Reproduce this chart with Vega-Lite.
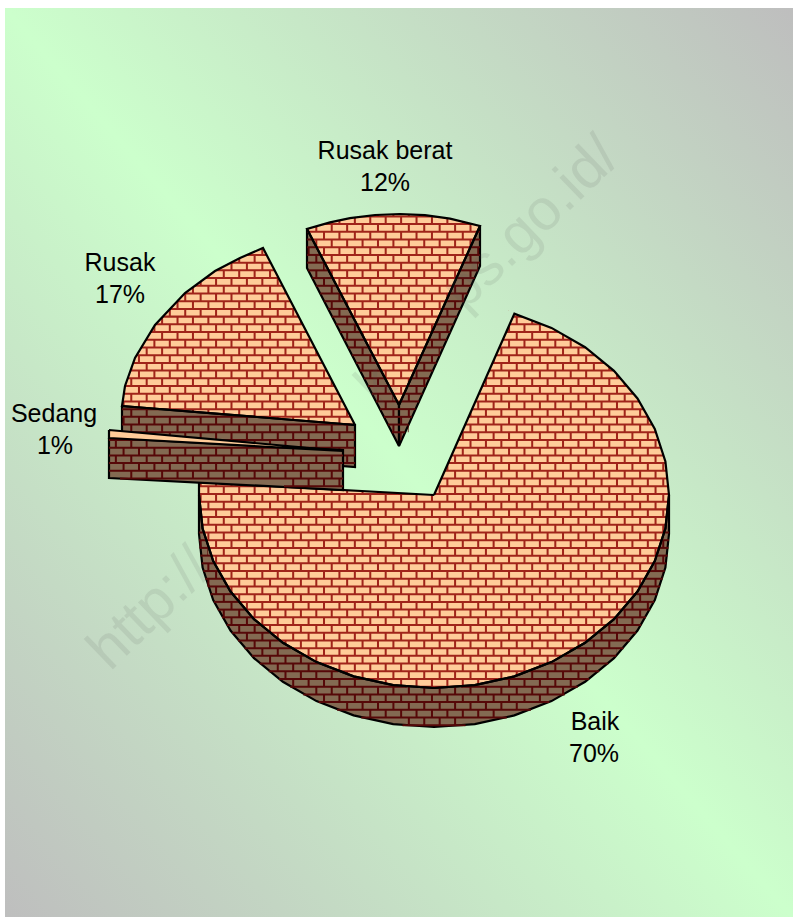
{"$schema":"https://vega.github.io/schema/vega-lite/v6.json","width":793,"height":917,"padding":0,"autosize":{"type":"fit","contains":"padding"},"background":"white","config":{"view":{"stroke":null}},
"datasets":{
"mask":[{"i":1,"x":5,"y":8},{"i":2,"x":793,"y":8},{"i":3,"x":793,"y":917},{"i":4,"x":5,"y":917},{"i":5,"x":5,"y":8},{"i":6,"x":514.4,"y":313.6},{"i":7,"x":434,"y":495},{"i":8,"x":343,"y":490},{"i":9,"x":343,"y":466},{"i":10,"x":355,"y":467},{"i":11,"x":355,"y":425},{"i":12,"x":263,"y":248},{"i":13,"x":240,"y":258},{"i":14,"x":215,"y":271},{"i":15,"x":185,"y":293},{"i":16,"x":155,"y":325},{"i":17,"x":135,"y":358},{"i":18,"x":125,"y":386},{"i":19,"x":122,"y":406},{"i":20,"x":122,"y":431},{"i":21,"x":109,"y":430},{"i":22,"x":109,"y":478},{"i":23,"x":199,"y":482},{"i":24,"x":199,"y":534},{"i":25,"x":202.6,"y":567.5},{"i":26,"x":213.2,"y":600},{"i":27,"x":230.5,"y":630.5},{"i":28,"x":254,"y":658.1},{"i":29,"x":282.9,"y":681.8},{"i":30,"x":316.5,"y":701.1},{"i":31,"x":353.6,"y":715.4},{"i":32,"x":393.2,"y":724.1},{"i":33,"x":434,"y":727},{"i":34,"x":474.8,"y":724.1},{"i":35,"x":514.4,"y":715.4},{"i":36,"x":551.5,"y":701.1},{"i":37,"x":585.1,"y":681.8},{"i":38,"x":614,"y":658.1},{"i":39,"x":637.5,"y":630.5},{"i":40,"x":654.8,"y":600},{"i":41,"x":665.4,"y":567.5},{"i":42,"x":669,"y":534},{"i":43,"x":669,"y":495},{"i":44,"x":665.4,"y":461.5},{"i":45,"x":654.8,"y":429},{"i":46,"x":637.5,"y":398.5},{"i":47,"x":614,"y":370.9},{"i":48,"x":585.1,"y":347.2},{"i":49,"x":551.5,"y":327.9},{"i":50,"x":514.4,"y":313.6},{"i":51,"x":5,"y":8},{"i":52,"x":307,"y":229},{"i":53,"x":307,"y":268},{"i":54,"x":399,"y":446},{"i":55,"x":480,"y":266},{"i":56,"x":480,"y":226},{"i":57,"x":450,"y":218.6},{"i":58,"x":425,"y":215.2},{"i":59,"x":400,"y":214},{"i":60,"x":375,"y":215},{"i":61,"x":350,"y":218.2},{"i":62,"x":330,"y":222.4},{"i":63,"x":307,"y":229},{"i":64,"x":5,"y":8}],
"sides":[{"s":"baik","i":1,"x":669,"y":495},{"s":"baik","i":2,"x":669,"y":534},{"s":"baik","i":3,"x":665.4,"y":567.5},{"s":"baik","i":4,"x":654.8,"y":600},{"s":"baik","i":5,"x":637.5,"y":630.5},{"s":"baik","i":6,"x":614,"y":658.1},{"s":"baik","i":7,"x":585.1,"y":681.8},{"s":"baik","i":8,"x":551.5,"y":701.1},{"s":"baik","i":9,"x":514.4,"y":715.4},{"s":"baik","i":10,"x":474.8,"y":724.1},{"s":"baik","i":11,"x":434,"y":727},{"s":"baik","i":12,"x":393.2,"y":724.1},{"s":"baik","i":13,"x":353.6,"y":715.4},{"s":"baik","i":14,"x":316.5,"y":701.1},{"s":"baik","i":15,"x":282.9,"y":681.8},{"s":"baik","i":16,"x":254,"y":658.1},{"s":"baik","i":17,"x":230.5,"y":630.5},{"s":"baik","i":18,"x":213.2,"y":600},{"s":"baik","i":19,"x":202.6,"y":567.5},{"s":"baik","i":20,"x":199,"y":534},{"s":"baik","i":21,"x":199,"y":495},{"s":"baik","i":22,"x":202.6,"y":528.5},{"s":"baik","i":23,"x":213.2,"y":561},{"s":"baik","i":24,"x":230.5,"y":591.5},{"s":"baik","i":25,"x":254,"y":619.1},{"s":"baik","i":26,"x":282.9,"y":642.8},{"s":"baik","i":27,"x":316.5,"y":662.1},{"s":"baik","i":28,"x":353.6,"y":676.4},{"s":"baik","i":29,"x":393.2,"y":685.1},{"s":"baik","i":30,"x":434,"y":688},{"s":"baik","i":31,"x":474.8,"y":685.1},{"s":"baik","i":32,"x":514.4,"y":676.4},{"s":"baik","i":33,"x":551.5,"y":662.1},{"s":"baik","i":34,"x":585.1,"y":642.8},{"s":"baik","i":35,"x":614,"y":619.1},{"s":"baik","i":36,"x":637.5,"y":591.5},{"s":"baik","i":37,"x":654.8,"y":561},{"s":"baik","i":38,"x":665.4,"y":528.5},{"s":"baik","i":39,"x":669,"y":495},
{"s":"beratL","i":1,"x":307,"y":229},{"s":"beratL","i":2,"x":399,"y":405},{"s":"beratL","i":3,"x":399,"y":446},{"s":"beratL","i":4,"x":307,"y":268},{"s":"beratL","i":5,"x":307,"y":229},
{"s":"beratR","i":1,"x":480,"y":226},{"s":"beratR","i":2,"x":480,"y":266},{"s":"beratR","i":3,"x":399,"y":446},{"s":"beratR","i":4,"x":399,"y":405},{"s":"beratR","i":5,"x":480,"y":226},
{"s":"rusak","i":1,"x":122,"y":406},{"s":"rusak","i":2,"x":355,"y":425},{"s":"rusak","i":3,"x":355,"y":467},{"s":"rusak","i":4,"x":122,"y":448},{"s":"rusak","i":5,"x":122,"y":406}],
"tops":[{"s":"baik","i":1,"x":434,"y":495},{"s":"baik","i":2,"x":514.4,"y":313.6},{"s":"baik","i":3,"x":551.5,"y":327.9},{"s":"baik","i":4,"x":585.1,"y":347.2},{"s":"baik","i":5,"x":614,"y":370.9},{"s":"baik","i":6,"x":637.5,"y":398.5},{"s":"baik","i":7,"x":654.8,"y":429},{"s":"baik","i":8,"x":665.4,"y":461.5},{"s":"baik","i":9,"x":669,"y":495},{"s":"baik","i":10,"x":665.4,"y":528.5},{"s":"baik","i":11,"x":654.8,"y":561},{"s":"baik","i":12,"x":637.5,"y":591.5},{"s":"baik","i":13,"x":614,"y":619.1},{"s":"baik","i":14,"x":585.1,"y":642.8},{"s":"baik","i":15,"x":551.5,"y":662.1},{"s":"baik","i":16,"x":514.4,"y":676.4},{"s":"baik","i":17,"x":474.8,"y":685.1},{"s":"baik","i":18,"x":434,"y":688},{"s":"baik","i":19,"x":393.2,"y":685.1},{"s":"baik","i":20,"x":353.6,"y":676.4},{"s":"baik","i":21,"x":316.5,"y":662.1},{"s":"baik","i":22,"x":282.9,"y":642.8},{"s":"baik","i":23,"x":254,"y":619.1},{"s":"baik","i":24,"x":230.5,"y":591.5},{"s":"baik","i":25,"x":213.2,"y":561},{"s":"baik","i":26,"x":202.6,"y":528.5},{"s":"baik","i":27,"x":199,"y":495},{"s":"baik","i":28,"x":199,"y":482},{"s":"baik","i":29,"x":434,"y":495},
{"s":"rusak","i":1,"x":355,"y":425},{"s":"rusak","i":2,"x":263,"y":248},{"s":"rusak","i":3,"x":240,"y":258},{"s":"rusak","i":4,"x":215,"y":271},{"s":"rusak","i":5,"x":185,"y":293},{"s":"rusak","i":6,"x":155,"y":325},{"s":"rusak","i":7,"x":135,"y":358},{"s":"rusak","i":8,"x":125,"y":386},{"s":"rusak","i":9,"x":122,"y":406},{"s":"rusak","i":10,"x":355,"y":425},
{"s":"berat","i":1,"x":399,"y":405},{"s":"berat","i":2,"x":307,"y":229},{"s":"berat","i":3,"x":330,"y":222.4},{"s":"berat","i":4,"x":350,"y":218.2},{"s":"berat","i":5,"x":375,"y":215},{"s":"berat","i":6,"x":400,"y":214},{"s":"berat","i":7,"x":425,"y":215.2},{"s":"berat","i":8,"x":450,"y":218.6},{"s":"berat","i":9,"x":480,"y":226},{"s":"berat","i":10,"x":399,"y":405}],
"sedangSide":[{"s":"sedang","i":1,"x":109,"y":438},{"s":"sedang","i":2,"x":343,"y":450},{"s":"sedang","i":3,"x":343,"y":490},{"s":"sedang","i":4,"x":109,"y":478},{"s":"sedang","i":5,"x":109,"y":438}],
"sedangTop":[{"s":"sedang","i":1,"x":109,"y":430},{"s":"sedang","i":2,"x":343,"y":451},{"s":"sedang","i":3,"x":109,"y":438},{"s":"sedang","i":4,"x":109,"y":430}],
"lightBase":[{"x":96,"x2":690,"y":205,"y2":700}],
"lightRows":[{"y":212.54,"x":101.44},{"y":220.25,"x":93.72},{"y":227.96,"x":101.44},{"y":235.67,"x":93.72},{"y":243.38,"x":101.44},{"y":251.09,"x":93.72},{"y":258.8,"x":101.44},{"y":266.51,"x":93.72},{"y":274.22,"x":101.44},{"y":281.93,"x":93.72},{"y":289.64,"x":101.44},{"y":297.35,"x":93.72},{"y":305.06,"x":101.44},{"y":312.77,"x":93.72},{"y":320.48,"x":101.44},{"y":328.19,"x":93.72},{"y":335.9,"x":101.44},{"y":343.61,"x":93.72},{"y":351.32,"x":101.44},{"y":359.03,"x":93.72},{"y":366.74,"x":101.44},{"y":374.45,"x":93.72},{"y":382.16,"x":101.44},{"y":389.87,"x":93.72},{"y":397.58,"x":101.44},{"y":405.29,"x":93.72},{"y":413,"x":101.44},{"y":420.71,"x":93.72},{"y":428.42,"x":101.44},{"y":436.13,"x":93.72},{"y":443.84,"x":101.44},{"y":451.55,"x":93.72},{"y":459.26,"x":101.44},{"y":466.97,"x":93.72},{"y":474.68,"x":101.44},{"y":482.39,"x":93.72},{"y":490.1,"x":101.44},{"y":497.81,"x":93.72},{"y":505.52,"x":101.44},{"y":513.23,"x":93.72},{"y":520.94,"x":101.44},{"y":528.65,"x":93.72},{"y":536.36,"x":101.44},{"y":544.07,"x":93.72},{"y":551.78,"x":101.44},{"y":559.49,"x":93.72},{"y":567.2,"x":101.44},{"y":574.91,"x":93.72},{"y":582.62,"x":101.44},{"y":590.33,"x":93.72},{"y":598.04,"x":101.44},{"y":605.75,"x":93.72},{"y":613.46,"x":101.44},{"y":621.17,"x":93.72},{"y":628.88,"x":101.44},{"y":636.59,"x":93.72},{"y":644.3,"x":101.44},{"y":652.01,"x":93.72},{"y":659.72,"x":101.44},{"y":667.43,"x":93.72},{"y":675.14,"x":101.44},{"y":682.85,"x":93.72},{"y":690.56,"x":101.44}],
"darkA":[
{"y":532.5,"ym":536.36,"a":199,"b":203.5},{"y":540.21,"ym":544.07,"a":199.1,"b":205.5,"d":199.67,"e":205.5},{"y":547.92,"ym":551.78,"a":199.6,"b":208,"d":207.38,"e":208},{"y":555.63,"ym":559.49,"a":200.5,"b":210.9},{"y":563.34,"ym":567.2,"a":201.7,"b":214.2,"d":207.38,"e":214.2},{"y":571.05,"ym":574.91,"a":203.4,"b":218,"d":215.09,"e":218},{"y":578.76,"ym":582.62,"a":205.4,"b":222.3,"d":207.38,"e":222.3},{"y":586.47,"ym":590.33,"a":207.9,"b":227.1,"d":215.09,"e":227.1},{"y":594.18,"ym":598.04,"a":210.7,"b":232.4,"d":222.8,"e":232.4},{"y":601.89,"ym":605.75,"a":214,"b":238.3,"d":230.51,"e":238.3},{"y":609.6,"ym":613.46,"a":217.8,"b":244.9,"d":222.8,"e":244.9},{"y":617.31,"ym":621.17,"a":222,"b":252.2,"d":230.51,"e":252.2},{"y":625.02,"ym":628.88,"a":226.8,"b":260.3,"d":238.22,"e":260.3},{"y":632.73,"ym":636.59,"a":232.1,"b":269.4,"d":245.93,"e":269.4},{"y":640.44,"ym":644.3,"a":238,"b":279.5,"d":253.64,"e":279.5},{"y":648.15,"ym":652.01,"a":244.5,"b":291,"d":261.35,"e":291},{"y":655.86,"ym":659.72,"a":251.8,"b":304.1,"d":269.06,"e":304.1},{"y":663.57,"ym":667.43,"a":259.8,"b":319.6,"d":276.77,"e":319.6},{"y":671.28,"ym":675.14,"a":268.8,"b":338.3,"d":284.48,"e":338.3},{"y":678.99,"ym":682.85,"a":278.9,"b":363,"d":292.19,"e":363},
{"y":686.7,"ym":690.56,"a":290.3,"b":406.8,"d":315.32,"e":564.7},{"y":686.7,"ym":690.56,"a":461.2,"b":577.7},{"y":694.41,"ym":698.27,"a":303.3,"b":564.7,"d":323.03,"e":549.4},{"y":702.12,"ym":705.98,"a":318.6,"b":549.4,"d":346.16,"e":530.9},{"y":709.83,"ym":713.69,"a":337.1,"b":530.9,"d":369.29,"e":506.7},{"y":717.54,"ym":721.4,"a":361.3,"b":506.7,"d":407.84,"e":465.5},{"y":725.25,"ym":729.11,"a":402.5,"b":465.5},
{"y":532.5,"ym":536.36,"a":664.5,"b":669},{"y":540.21,"ym":544.07,"a":662.5,"b":668.9,"d":662.27,"e":668.4},{"y":547.92,"ym":551.78,"a":660,"b":668.4},{"y":555.63,"ym":559.49,"a":657.1,"b":667.5,"d":662.27,"e":666.3},{"y":563.34,"ym":567.2,"a":653.8,"b":666.3,"d":654.56,"e":664.6},{"y":571.05,"ym":574.91,"a":650,"b":664.6,"d":662.27,"e":662.6},{"y":578.76,"ym":582.62,"a":645.7,"b":662.6,"d":654.56,"e":660.1},{"y":586.47,"ym":590.33,"a":640.9,"b":660.1,"d":646.85,"e":657.3},{"y":594.18,"ym":598.04,"a":635.6,"b":657.3,"d":639.14,"e":654},{"y":601.89,"ym":605.75,"a":629.7,"b":654,"d":631.43,"e":650.2},{"y":609.6,"ym":613.46,"a":623.1,"b":650.2,"d":623.72,"e":646},{"y":617.31,"ym":621.17,"a":615.8,"b":646,"d":616.01,"e":641.2},{"y":625.02,"ym":628.88,"a":607.7,"b":641.2,"d":608.3,"e":635.9},{"y":632.73,"ym":636.59,"a":598.6,"b":635.9,"d":600.59,"e":630},{"y":640.44,"ym":644.3,"a":588.5,"b":630,"d":592.88,"e":623.5},{"y":648.15,"ym":652.01,"a":577,"b":623.5,"d":585.17,"e":616.2},{"y":655.86,"ym":659.72,"a":563.9,"b":616.2,"d":577.46,"e":608.2},{"y":663.57,"ym":667.43,"a":548.4,"b":608.2,"d":554.33,"e":599.2},{"y":671.28,"ym":675.14,"a":529.7,"b":599.2,"d":531.2,"e":589.1},{"y":678.99,"ym":682.85,"a":505,"b":589.1,"d":508.07,"e":577.7},
{"y":231.81,"ym":235.67,"a":307,"b":308.5},{"y":239.52,"ym":243.38,"a":307,"b":312.5},{"y":247.23,"ym":251.09,"a":307,"b":316.6,"d":307.61,"e":316.6},{"y":254.94,"ym":258.8,"a":307,"b":320.6,"d":315.32,"e":320.6},{"y":262.65,"ym":266.51,"a":307,"b":324.6,"d":323.03,"e":324.6},{"y":270.36,"ym":274.22,"a":308.2,"b":328.7,"d":315.32,"e":328.7},{"y":278.07,"ym":281.93,"a":312.2,"b":332.7,"d":323.03,"e":332.7},{"y":285.78,"ym":289.64,"a":316.2,"b":336.8,"d":330.74,"e":336.8},{"y":293.49,"ym":297.35,"a":320.2,"b":340.8,"d":338.45,"e":340.8},{"y":301.2,"ym":305.06,"a":324.2,"b":344.8,"d":330.74,"e":344.8},{"y":308.91,"ym":312.77,"a":328.2,"b":348.9,"d":338.45,"e":348.9},{"y":316.62,"ym":320.48,"a":332.1,"b":352.9,"d":346.16,"e":352.9},{"y":324.33,"ym":328.19,"a":336.1,"b":356.9,"d":353.87,"e":356.9},{"y":332.04,"ym":335.9,"a":340.1,"b":361,"d":346.16,"e":361},{"y":339.75,"ym":343.61,"a":344.1,"b":365,"d":353.87,"e":365},{"y":347.46,"ym":351.32,"a":348.1,"b":369,"d":361.58,"e":369},{"y":355.17,"ym":359.03,"a":352.1,"b":373.1,"d":369.29,"e":373.1},{"y":362.88,"ym":366.74,"a":356.1,"b":377.1,"d":361.58,"e":377.1},{"y":370.59,"ym":374.45,"a":360,"b":381.1,"d":369.29,"e":381.1},{"y":378.3,"ym":382.16,"a":364,"b":385.2,"d":377,"e":385.2},{"y":386.01,"ym":389.87,"a":368,"b":389.2,"d":384.71,"e":389.2},{"y":393.72,"ym":397.58,"a":372,"b":393.2,"d":377,"e":393.2},{"y":401.43,"ym":405.29,"a":376,"b":397.3,"d":384.71,"e":397.3},{"y":409.14,"ym":413,"a":380,"b":399,"d":392.42,"e":399},{"y":416.85,"ym":420.71,"a":384,"b":399},{"y":424.56,"ym":428.42,"a":387.9,"b":399,"d":392.42,"e":399},{"y":432.27,"ym":436.13,"a":391.9,"b":399},
{"y":231.81,"ym":235.67,"a":477.4,"b":480},{"y":239.52,"ym":243.38,"a":473.9,"b":480},{"y":247.23,"ym":251.09,"a":470.4,"b":480,"d":477.23,"e":480},{"y":254.94,"ym":258.8,"a":466.9,"b":480,"d":469.52,"e":480},{"y":262.65,"ym":266.51,"a":463.4,"b":480,"d":477.23,"e":478},{"y":270.36,"ym":274.22,"a":459.9,"b":478,"d":469.52,"e":474.6},{"y":278.07,"ym":281.93,"a":456.4,"b":474.6,"d":461.81,"e":471.1},{"y":285.78,"ym":289.64,"a":453,"b":471.1,"d":454.1,"e":467.6},{"y":293.49,"ym":297.35,"a":449.5,"b":467.6,"d":461.81,"e":464.2},{"y":301.2,"ym":305.06,"a":446,"b":464.2,"d":454.1,"e":460.7},{"y":308.91,"ym":312.77,"a":442.5,"b":460.7,"d":446.39,"e":457.2},{"y":316.62,"ym":320.48,"a":439,"b":457.2},{"y":324.33,"ym":328.19,"a":435.5,"b":453.7,"d":446.39,"e":450.3},{"y":332.04,"ym":335.9,"a":432,"b":450.3,"d":438.68,"e":446.8},{"y":339.75,"ym":343.61,"a":428.6,"b":446.8,"d":430.97,"e":443.3},{"y":347.46,"ym":351.32,"a":425.1,"b":443.3,"d":438.68,"e":439.8},{"y":355.17,"ym":359.03,"a":421.6,"b":439.8,"d":430.97,"e":436.4},{"y":362.88,"ym":366.74,"a":418.1,"b":436.4,"d":423.26,"e":432.9},{"y":370.59,"ym":374.45,"a":414.6,"b":432.9,"d":415.55,"e":429.4},{"y":378.3,"ym":382.16,"a":411.1,"b":429.4,"d":423.26,"e":425.9},{"y":386.01,"ym":389.87,"a":407.6,"b":425.9,"d":415.55,"e":422.5},{"y":393.72,"ym":397.58,"a":404.2,"b":422.5,"d":407.84,"e":419},{"y":401.43,"ym":405.29,"a":400.7,"b":419,"d":415.55,"e":415.6},{"y":409.14,"ym":413,"a":399,"b":415.5,"d":407.84,"e":412},{"y":416.85,"ym":420.71,"a":399,"b":412,"d":400.13,"e":408.6},{"y":424.56,"ym":428.42,"a":399,"b":408.6,"d":407.84,"e":408.6},{"y":432.27,"ym":436.13,"a":399,"b":405.1,"d":400.13,"e":401.6},
{"y":409.14,"ym":413,"a":122,"b":160.5,"d":130.28,"e":160.5},{"y":416.85,"ym":420.71,"a":122,"b":255.1,"d":122.57,"e":255.1},{"y":424.56,"ym":428.42,"a":122,"b":349.7,"d":130.28,"e":349.7},{"y":432.27,"ym":436.13,"a":122,"b":355,"d":122.57,"e":355},{"y":439.98,"ym":443.84,"a":122,"b":355,"d":130.28,"e":355},{"y":447.69,"ym":451.55,"a":122,"b":355,"d":338.45,"e":355},{"y":455.4,"ym":459.26,"a":212.8,"b":355,"d":346.16,"e":355},{"y":463.11,"ym":466.97,"a":307,"b":355}],
"darkS":[{"y":439.98,"ym":443.84,"a":109,"b":147.6,"d":114.86,"e":147.6},{"y":447.69,"ym":451.55,"a":109,"b":297.9,"d":122.57,"e":297.9},{"y":455.4,"ym":459.26,"a":109,"b":343,"d":114.86,"e":343},{"y":463.11,"ym":466.97,"a":109,"b":343,"d":122.57,"e":343},{"y":470.82,"ym":474.68,"a":109,"b":343,"d":130.28,"e":343},{"y":478.53,"ym":482.39,"a":120,"b":343,"d":292.19,"e":343},{"y":486.24,"ym":490.1,"a":284,"b":343}],
"labels":[{"t":"Rusak berat","x":385,"y":151},{"t":"12%","x":385,"y":183},{"t":"Rusak","x":120,"y":263},{"t":"17%","x":120,"y":295},{"t":"Sedang","x":54,"y":414},{"t":"1%","x":55,"y":446},{"t":"Baik","x":595,"y":722},{"t":"70%","x":594,"y":754}],
"wmStart":[{"t":"http://","x":110,"y":672},{"t":"k","x":378,"y":408}],
"wmEnd":[{"t":"ps.go.id/","x":622,"y":160}]
},
"layer":[
{"data":{"name":"lightBase"},"mark":{"type":"rect","fill":"#a0241a"},"encoding":{"x":{"field":"x","type":"quantitative","scale":{"domain":[0,793],"nice":false,"zero":false},"axis":null},"x2":{"field":"x2"},"y":{"field":"y","type":"quantitative","scale":{"domain":[0,917],"range":[0,917],"nice":false,"zero":false},"axis":null},"y2":{"field":"y2"}}},
{"data":{"name":"lightRows"},"mark":{"type":"rule","stroke":"#ffcc99","strokeWidth":5.7,"strokeDash":[13.4,2.02]},"encoding":{"x":{"field":"x","type":"quantitative","axis":null},"x2":{"datum":690},"y":{"field":"y","type":"quantitative","axis":null}}},
{"data":{"name":"mask"},"mark":{"type":"line","stroke":null,"fill":{"gradient":"linear","x1":1,"y1":0,"x2":0,"y2":1,"stops":[{"offset":0,"color":"#bebebe"},{"offset":0.5,"color":"#ccffcc"},{"offset":1,"color":"#bebebe"}]}},"encoding":{"x":{"field":"x","type":"quantitative","axis":null},"y":{"field":"y","type":"quantitative","axis":null},"order":{"field":"i"}}},
{"data":{"name":"sides"},"mark":{"type":"line","stroke":"#000000","strokeWidth":2.2,"fill":"#836a52"},"encoding":{"x":{"field":"x","type":"quantitative","axis":null},"y":{"field":"y","type":"quantitative","axis":null},"detail":{"field":"s"},"order":{"field":"i"}}},
{"data":{"name":"darkA"},"mark":{"type":"rule","stroke":"#560808","strokeWidth":2},"encoding":{"x":{"field":"a","type":"quantitative","axis":null},"x2":{"field":"b"},"y":{"field":"y","type":"quantitative","axis":null}}},
{"data":{"name":"darkA"},"transform":[{"filter":"datum.d"}],"mark":{"type":"rule","stroke":"#560808","strokeWidth":7.71,"strokeDash":[2,13.42]},"encoding":{"x":{"field":"d","type":"quantitative","axis":null},"x2":{"field":"e"},"y":{"field":"ym","type":"quantitative","axis":null}}},
{"data":{"name":"tops"},"mark":{"type":"line","stroke":"#000000","strokeWidth":2.2},"encoding":{"x":{"field":"x","type":"quantitative","axis":null},"y":{"field":"y","type":"quantitative","axis":null},"detail":{"field":"s"},"order":{"field":"i"}}},
{"data":{"name":"sedangSide"},"mark":{"type":"line","stroke":"#000000","strokeWidth":2.2,"fill":"#836a52"},"encoding":{"x":{"field":"x","type":"quantitative","axis":null},"y":{"field":"y","type":"quantitative","axis":null},"order":{"field":"i"}}},
{"data":{"name":"darkS"},"mark":{"type":"rule","stroke":"#560808","strokeWidth":2},"encoding":{"x":{"field":"a","type":"quantitative","axis":null},"x2":{"field":"b"},"y":{"field":"y","type":"quantitative","axis":null}}},
{"data":{"name":"darkS"},"transform":[{"filter":"datum.d"}],"mark":{"type":"rule","stroke":"#560808","strokeWidth":7.71,"strokeDash":[2,13.42]},"encoding":{"x":{"field":"d","type":"quantitative","axis":null},"x2":{"field":"e"},"y":{"field":"ym","type":"quantitative","axis":null}}},
{"data":{"name":"sedangTop"},"mark":{"type":"line","stroke":"#000000","strokeWidth":2.2,"fill":"#ffcc99"},"encoding":{"x":{"field":"x","type":"quantitative","axis":null},"y":{"field":"y","type":"quantitative","axis":null},"order":{"field":"i"}}},
{"data":{"name":"labels"},"mark":{"type":"text","font":"Liberation Sans","fontSize":25,"fill":"#000000","align":"center","baseline":"middle"},"encoding":{"x":{"field":"x","type":"quantitative","axis":null},"y":{"field":"y","type":"quantitative","axis":null},"text":{"field":"t"}}},
{"data":{"name":"wmStart"},"mark":{"type":"text","font":"Liberation Sans","fontSize":58,"fill":"#555555","opacity":0.11,"angle":316,"align":"left","baseline":"alphabetic"},"encoding":{"x":{"field":"x","type":"quantitative","axis":null},"y":{"field":"y","type":"quantitative","axis":null},"text":{"field":"t"}}},
{"data":{"name":"wmEnd"},"mark":{"type":"text","font":"Liberation Sans","fontSize":58,"fill":"#555555","opacity":0.11,"angle":316,"align":"right","baseline":"alphabetic"},"encoding":{"x":{"field":"x","type":"quantitative","axis":null},"y":{"field":"y","type":"quantitative","axis":null},"text":{"field":"t"}}}
]}
